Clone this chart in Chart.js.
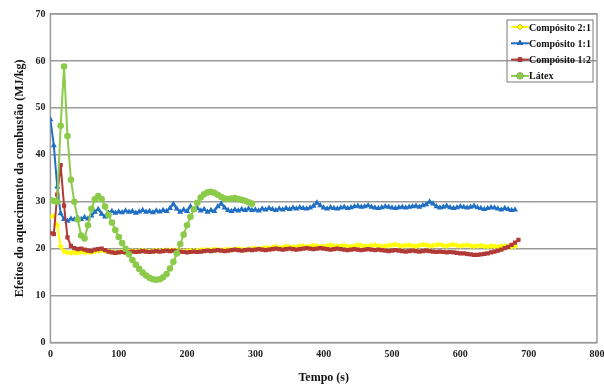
<!DOCTYPE html>
<html>
<head>
<meta charset="utf-8">
<script src="https://cdn.jsdelivr.net/npm/chart.js@4"></script>
<style>
body { margin: 0; background: #fff; }
#wrap { width: 604px; height: 385px; }
</style>
</head>
<body>
<div id="wrap"><canvas id="myChart" width="604" height="385"></canvas></div>
<script>
// tempo de amostragem (s)
var passo = 5;

var nomes = ["Compósito 2:1", "Compósito 1:1", "Compósito 1:2", "Látex"];

var comp21 = [26.8,27.0,25.0,20.5,19.4,19.2,19.1,19.2,19.1,19.3,19.2,19.3,19.2,19.4,19.5,19.6,19.5,19.4,19.3,19.2,
	19.3,19.4,19.3,19.4,19.5,19.4,19.5,19.6,19.5,19.4,19.5,19.6,19.5,19.6,19.7,19.6,19.7,19.6,19.5,19.4,
	19.5,19.6,19.5,19.6,19.7,19.8,19.7,19.8,19.9,19.8,19.7,19.8,19.9,19.8,19.9,20.0,19.9,19.8,19.9,20.0,
	20.1,20.0,20.1,20.2,20.1,20.3,20.4,20.2,20.3,20.5,20.4,20.3,20.4,20.6,20.5,20.4,20.5,20.7,20.6,20.4,
	20.5,20.6,20.8,20.6,20.5,20.6,20.7,20.5,20.4,20.6,20.8,20.7,20.6,20.5,20.7,20.8,20.6,20.5,20.6,20.7,
	20.8,20.9,20.7,20.6,20.7,20.8,20.6,20.5,20.7,20.9,20.8,20.6,20.7,20.8,20.9,20.7,20.6,20.8,20.9,20.7,
	20.6,20.7,20.8,20.6,20.5,20.6,20.7,20.5,20.4,20.6,20.5,20.4,20.5,20.6,20.5,20.4,20.5];

var comp11 = [47.5,42.0,33.2,27.5,26.3,25.9,26.4,26.2,26.6,26.3,26.7,26.4,27.0,27.8,28.4,27.4,26.8,27.6,28.0,27.6,
	27.9,27.7,28.1,27.8,28.0,27.6,27.9,28.2,27.8,28.0,27.7,28.1,27.9,28.2,28.0,28.6,29.5,28.5,27.8,28.3,
	28.0,29.0,28.3,28.6,28.1,28.4,27.8,28.2,28.0,29.0,29.6,28.7,28.2,28.0,28.3,28.1,28.4,28.2,28.5,28.2,
	28.3,28.1,28.5,28.3,28.6,28.4,28.2,28.5,28.3,28.6,28.4,28.7,28.5,28.8,28.6,28.5,28.7,29.1,29.8,29.2,
	28.7,28.5,28.8,28.6,28.5,28.7,28.9,28.6,28.8,29.0,29.1,28.9,29.0,29.2,28.9,28.7,28.6,28.8,29.0,28.9,
	28.7,28.6,28.8,28.9,28.7,28.9,29.0,29.1,28.9,29.2,29.4,30.0,29.6,29.0,28.7,28.9,29.1,28.8,28.6,28.8,
	29.0,28.9,28.7,28.9,29.1,28.8,28.6,28.4,28.6,28.8,28.7,28.5,28.3,28.6,28.4,28.2,28.3];

var comp12 = [23.3,23.1,31.5,37.8,29.2,22.4,20.6,20.1,19.9,20.0,19.8,19.6,19.5,19.8,19.9,20.0,19.7,19.4,19.2,19.1,
	19.2,19.3,19.2,19.3,19.4,19.3,19.4,19.5,19.4,19.3,19.4,19.5,19.4,19.5,19.6,19.5,19.6,19.5,19.4,19.3,
	19.2,19.3,19.4,19.3,19.4,19.5,19.6,19.5,19.6,19.7,19.6,19.5,19.6,19.7,19.8,19.7,19.6,19.7,19.8,19.7,
	19.8,19.9,19.8,19.7,19.8,19.9,20.0,19.9,19.8,19.9,20.0,19.9,19.8,19.9,20.0,20.1,20.0,19.9,20.0,20.1,
	20.0,19.9,19.8,19.9,20.0,19.9,19.8,19.7,19.8,19.9,19.8,19.7,19.8,19.9,19.8,19.7,19.8,19.7,19.6,19.5,
	19.6,19.7,19.6,19.5,19.4,19.5,19.6,19.5,19.4,19.5,19.6,19.5,19.4,19.3,19.4,19.3,19.2,19.3,19.2,19.1,
	19.0,19.0,18.9,18.8,18.7,18.7,18.8,18.9,19.0,19.2,19.4,19.6,19.8,20.1,20.4,20.8,21.3,21.9];

var latex = [30.3,30.2,30.0,46.2,58.8,44.0,34.7,30.0,26.2,22.8,22.2,25.0,28.5,30.5,31.2,30.6,29.0,27.2,25.6,24.0,
	22.5,21.2,20.0,18.8,17.6,16.6,15.7,14.9,14.3,13.8,13.5,13.4,13.5,13.9,14.6,15.8,17.2,19.0,21.0,23.0,
	25.0,26.8,28.4,29.8,30.9,31.6,32.0,32.1,31.9,31.5,31.0,30.7,30.6,30.7,30.8,30.6,30.4,30.2,29.9,29.6];

var ticksX = [0,100,200,300,400,500,600,700,800];
var ticksY = [0,10,20,30,40,50,60,70];

var cores = ["#FFFF00", "#1F6FC4", "#B13A36", "#8CCB4A"];
var marcas = ["rectRot", "triangle", "rect", "circle"];
var raios = [3, 3.5, 3, 3.3];

function pontos(valores) {
	var out = [];
	for (var i = 0; i < valores.length; i++) {
		out.push({ x: i * passo, y: valores[i] });
	}
	return out;
}

var series = [comp21, comp11, comp12, latex];
var datasets = [];
for (var s = 0; s < series.length; s++) {
	datasets.push({
		label: nomes[s],
		data: pontos(series[s]),
		borderColor: cores[s],
		backgroundColor: cores[s],
		borderWidth: 2,
		pointStyle: marcas[s],
		pointRadius: raios[s],
		pointBorderWidth: 0,
		tension: 0,
		order: 4 - s
	});
}

var serif = "'Liberation Serif', 'Times New Roman', serif";

// borda da area do grafico + legenda dentro da area
var moldura = {
	id: 'moldura',
	beforeDatasetsDraw: function(chart) {
		var a = chart.chartArea, c = chart.ctx;
		c.save();
		c.strokeStyle = "#9a9a9a";
		c.lineWidth = 1.5;
		c.strokeRect(a.left, a.top, a.right - a.left, a.bottom - a.top);
		c.restore();
	},
	afterDraw: function(chart) {
		var a = chart.chartArea, c = chart.ctx;
		var x0 = a.right - 90, y0 = a.top + 6, w = 86, h = 62;
		c.save();
		c.strokeStyle = "#7a7a7a";
		c.lineWidth = 1;
		c.strokeRect(x0, y0, w, h);
		c.font = "bold 10px " + serif;
		c.textBaseline = "middle";
		c.fillStyle = "#111";
		for (var i = 0; i < chart.data.datasets.length; i++) {
			var ds = chart.data.datasets[i];
			var yy = y0 + 7 + i * 16.3;
			c.strokeStyle = ds.borderColor;
			c.lineWidth = 2;
			c.beginPath();
			c.moveTo(x0 + 4, yy);
			c.lineTo(x0 + 22, yy);
			c.stroke();
			Chart.helpers.drawPoint(c, { pointStyle: ds.pointStyle, radius: ds.pointRadius, rotation: 0, borderWidth: 0 }, x0 + 13, yy);
			c.fillStyle = ds.borderColor;
			c.fill();
			c.fillStyle = "#111";
			c.fillText(ds.label, x0 + 22, yy + 1);
		}
		c.restore();
	}
};

var ctx = document.getElementById("myChart");
var myChart = new Chart(ctx, {
	type: 'line',
	data: { datasets: datasets },
	plugins: [moldura],
	options: {
		responsive: false,
		animation: false,
		layout: { padding: { top: 14, right: 7, left: 13, bottom: 0 } },
		plugins: {
			legend: { display: false },
			tooltip: { enabled: false }
		},
		scales: {
			x: {
				type: 'linear',
				min: 0,
				max: 800,
				afterBuildTicks: function(axis) {
					axis.ticks = ticksX.map(function(v) { return { value: v }; });
				},
				afterFit: function(axis) {
					axis.paddingRight = 0;
				},
				grid: { display: false, drawTicks: false },
				border: { display: false },
				ticks: {
					padding: 6,
					color: "#222",
					font: { family: serif, size: 10, weight: 'bold' }
				},
				title: {
					display: true,
					text: "Tempo (s)",
					color: "#111",
					padding: { top: 4, bottom: 0 },
					font: { family: serif, size: 12, weight: 'bold' }
				}
			},
			y: {
				min: 0,
				max: 70,
				afterBuildTicks: function(axis) {
					axis.ticks = ticksY.map(function(v) { return { value: v }; });
				},
				grid: { color: "#9a9a9a", lineWidth: 1.5, drawTicks: false },
				border: { display: false },
				ticks: {
					padding: 5,
					color: "#222",
					font: { family: serif, size: 10, weight: 'bold' }
				},
				title: {
					display: true,
					text: "Efeitos do aquecimento da combustão (MJ/kg)",
					color: "#111",
					padding: { top: 0, bottom: 3 },
					font: { family: serif, size: 12, weight: 'bold' }
				}
			}
		}
	}
});
</script>
</body>
</html>
